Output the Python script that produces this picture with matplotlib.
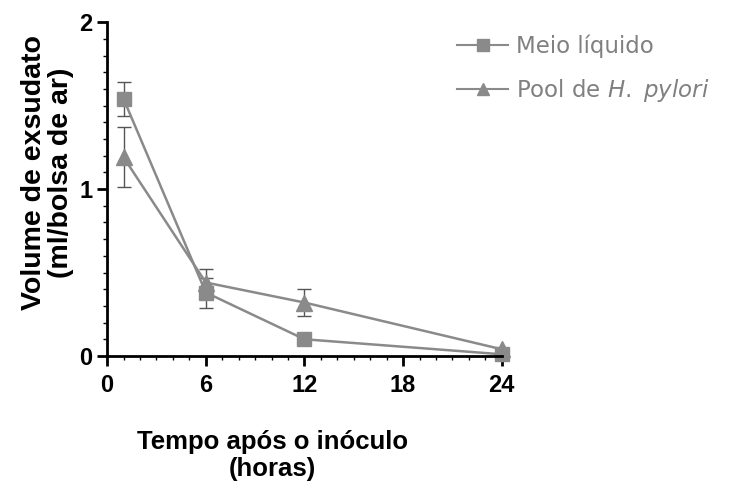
import numpy as np
import matplotlib.pyplot as plt
from matplotlib.ticker import MultipleLocator
from matplotlib.lines import Line2D

plt.rcParams['font.family'] = ['Liberation Sans', 'DejaVu Sans']
plt.rcParams['mathtext.fontset'] = 'custom'
plt.rcParams['mathtext.it'] = 'DejaVu Sans:italic'
plt.rcParams['mathtext.rm'] = 'DejaVu Sans'

# time points (hours)
tempo = [1, 6, 12, 24]
# Meio liquido
meio = [1.54, 0.38, 0.10, 0.01]
meio_err = [0.10, 0.09, 0.02, 0.01]
# Pool de H. pylori
pool = [1.19, 0.44, 0.32, 0.04]
pool_err = [0.18, 0.08, 0.08, 0.01]

fig = plt.figure(figsize=(7.39, 4.93), dpi=100)
ax = fig.add_axes([0.145, 0.278, 0.534, 0.677])

gray = '#8a8a8a'
ax.errorbar(tempo, meio, yerr=meio_err, color=gray, marker='s', markersize=10,
            lw=1.8, capsize=5, elinewidth=1, ecolor='#555555', clip_on=False)
ax.errorbar(tempo, pool, yerr=pool_err, color=gray, marker='^', markersize=11,
            lw=1.8, capsize=5, elinewidth=1, ecolor='#555555', clip_on=False)

ax.set_xlim(0, 24)
ax.set_ylim(0, 2)
ax.set_xticks([0, 6, 12, 18, 24])
ax.set_yticks([0, 1, 2])
ax.xaxis.set_minor_locator(MultipleLocator(1))
ax.yaxis.set_minor_locator(MultipleLocator(0.1))
for s in ['top', 'right']:
    ax.spines[s].set_visible(False)
for s in ['left', 'bottom']:
    ax.spines[s].set_linewidth(2)
ax.tick_params(which='major', width=2, length=7, labelsize=17)
ax.tick_params(axis='x', which='major', pad=6)
ax.tick_params(which='minor', width=1, length=3)
for lab in ax.get_xticklabels() + ax.get_yticklabels():
    lab.set_fontweight('bold')

ax.set_ylabel('Volume de exsudato\n(ml/bolsa de ar)', fontsize=20.5, fontweight='bold',
              linespacing=1.05)
ax.yaxis.set_label_coords(-0.085, 0.55)
ax.set_xlabel('Tempo após o inóculo\n(horas)', fontsize=18.5, fontweight='bold',
              linespacing=1.15)
ax.xaxis.set_label_coords(0.418, -0.222)

handles = [Line2D([], [], color=gray, marker='s', markersize=8, lw=1.5),
           Line2D([], [], color=gray, marker='^', markersize=9, lw=1.5)]
labels = ['Meio líquido', 'Pool de $\\it{H.}$ $\\it{pylori}$']
fig.legend(handles, labels, loc='upper left', bbox_to_anchor=(0.619, 0.93), frameon=False,
           prop={'family': 'DejaVu Sans', 'size': 16.5}, handlelength=2.2, handletextpad=0.35,
           labelspacing=0.85, borderpad=0, borderaxespad=0, labelcolor='#808080')

fig.savefig('out.png', dpi=100)
